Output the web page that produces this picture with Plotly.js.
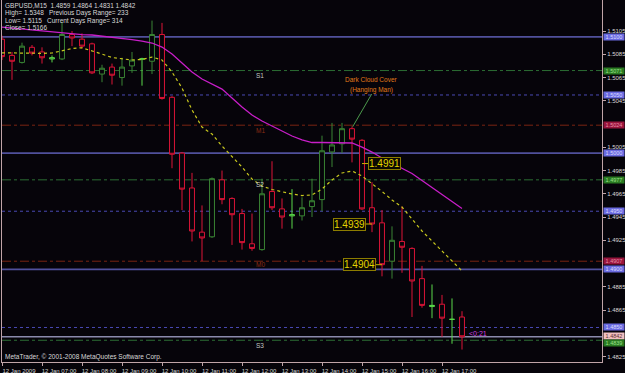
<!DOCTYPE html>
<html><head><meta charset="utf-8">
<script src="https://cdn.plot.ly/plotly-3.0.1.min.js"></script>
<style>html,body{margin:0;padding:0;background:#06040a;}#chart{width:625px;height:373px;}</style>
</head><body><div id="chart"></div>
<script>
// ---- data (GBPUSD M15, 12 Jan 2009, 06:00 .. 17:30) ----
const open  = [1.5098,1.5084,1.5078,1.5091,1.5087,1.5081,1.5081,1.5102,1.5098,1.5094,1.5068,1.5074,1.5065,1.5075,1.5081,1.5079,1.5102,1.5048,1.5000,1.4970,1.4932,1.4928,1.4977,1.4961,1.4948,1.4922,1.4917,1.4967,1.4952,1.4946,1.4946,1.4954,1.4960,1.5001,1.5008,1.5021,1.5011,1.4953,1.4940,1.4907,1.4924,1.4918,1.4892,1.4868,1.4870,1.4857,1.4859];
const high  = [1.5101,1.5087,1.5095,1.5093,1.5091,1.5084,1.5113,1.5105,1.5103,1.5095,1.5076,1.5077,1.5082,1.5087,1.5082,1.5114,1.5112,1.5049,1.5001,1.4983,1.4955,1.4979,1.4985,1.4962,1.4952,1.4948,1.4978,1.4993,1.4961,1.4969,1.4962,1.4978,1.5015,1.5026,1.5026,1.5023,1.5012,1.4975,1.4951,1.4937,1.4954,1.4919,1.4903,1.4887,1.4878,1.4875,1.4864];
const low   = [1.5080,1.5063,1.5077,1.5084,1.5077,1.5078,1.5080,1.5092,1.5090,1.5068,1.5061,1.5059,1.5058,1.5069,1.5058,1.5068,1.5046,1.4987,1.4951,1.4924,1.4907,1.4927,1.4956,1.4921,1.4917,1.4916,1.4916,1.4951,1.4935,1.4935,1.4942,1.4945,1.4950,1.4988,1.5000,1.4992,1.4951,1.4932,1.4894,1.4892,1.4897,1.4859,1.4867,1.4858,1.4842,1.4836,1.4831];
const close = [1.5083,1.5079,1.5092,1.5086,1.5082,1.5082,1.5102,1.5099,1.5092,1.5069,1.5073,1.5067,1.5074,1.5080,1.5081,1.5102,1.5047,1.4999,1.4969,1.4933,1.4927,1.4978,1.4960,1.4947,1.4923,1.4918,1.4965,1.4953,1.4945,1.4947,1.4953,1.4959,1.5002,1.5007,1.5021,1.5012,1.4952,1.4939,1.4904,1.4925,1.4919,1.4890,1.4869,1.4869,1.4858,1.4857,1.4842];
const maFast = [1.50863,1.50861,1.50858,1.50858,1.50858,1.50861,1.50882,1.50900,1.50906,1.50882,1.50852,1.50822,1.50809,1.50801,1.50805,1.50826,1.50801,1.50697,1.50560,1.50371,1.50224,1.50164,1.50061,1.49975,1.49880,1.49777,1.49717,1.49687,1.49665,1.49648,1.49635,1.49640,1.49691,1.49769,1.49829,1.49846,1.49803,1.49739,1.49670,1.49597,1.49536,1.49433,1.49330,1.49244,1.49158,1.49081,1.48986];
const maSlow = [1.51084,1.51076,1.51067,1.51059,1.51050,1.51041,1.51033,1.51024,1.51020,1.51016,1.51007,1.50998,1.50990,1.50977,1.50964,1.50947,1.50912,1.50852,1.50775,1.50697,1.50637,1.50594,1.50551,1.50474,1.50396,1.50328,1.50276,1.50233,1.50190,1.50147,1.50113,1.50091,1.50091,1.50091,1.50091,1.50087,1.50052,1.50009,1.49958,1.49915,1.49874,1.49825,1.49764,1.49704,1.49644,1.49584,1.49524];
const timeLabels = ["12 Jan 2009","12 Jan 07:00","12 Jan 08:00","12 Jan 09:00","12 Jan 10:00","12 Jan 11:00","12 Jan 12:00","12 Jan 13:00","12 Jan 14:00","12 Jan 15:00","12 Jan 16:00","12 Jan 17:00"];
const timeLabelBars = [0,4,8,12,16,20,24,28,32,36,40,44];
const priceTicks = [1.5105,1.5085,1.5065,1.5045,1.5005,1.4985,1.4965,1.4945,1.4925,1.4885,1.4865,1.4825];
const levelPrices = [1.5100,1.5071,1.5050,1.5024,1.5000,1.4977,1.4950,1.4907,1.4900,1.4850,1.4842,1.4839];
const levelKinds  = ['round','pivotS','half','pivotM','round','pivotS','half','pivotM','round','half','bid','pivotS'];
const pivotNames  = ['S1','M1','S2','M0','S3'];
const pivotPrices = [1.5071,1.5024,1.4977,1.4907,1.4839];
const sideBoxPrices = [1.5100,1.5071,1.5050,1.5024,1.5000,1.4977,1.4950,1.4907,1.4900,1.4850,1.4842,1.4839];
const sideBoxKinds  = ['round','pivotS','half','pivotM','round','pivotS','half','pivotM','round','half','bid','pivotS'];
const priceLabels = [1.4991,1.4939,1.4904];
const priceLabelBars = [36,37,38];
const header = "GBPUSD,M15  1.4859 1.4864 1.4831 1.4842";
const stats = [["High= 1.5348","Previous Days Range= 233"],["Low= 1.5115","Current Days Range= 314"],["Close= 1.5166",""]];

// ---- styling ----
const bg = '#06040a', axisCol = '#c0a4a8', txt = '#d8d8d8';
const FONT = 'Liberation Sans, Arial, sans-serif';
const PY0 = 1.48203, PY1 = 1.51317;
const bars = open.map((_, i) => i);
const doji = open.map((o, i) => Math.abs(close[i] - o) < 0.00015);
const sel = (a, keep) => a.map((v, i) => keep(i) ? v : null);
const normal = i => !doji[i], dj = i => doji[i];

const redC = '#dc1437', grnC = '#3a8434', dojiC = '#5ad84a';
const traces = [
  {type:'scatter', mode:'lines', x:bars, y:maSlow, line:{color:'#c81ec8', width:1.3}, hoverinfo:'skip'},
  {type:'scatter', mode:'lines', x:bars, y:maFast, line:{color:'#c8c81e', width:1.2, dash:'dot'}, hoverinfo:'skip'},
  {type:'candlestick', x:bars, open:sel(open,normal), high:sel(high,normal), low:sel(low,normal), close:sel(close,normal),
   increasing:{line:{color:grnC,width:1}, fillcolor:bg}, decreasing:{line:{color:redC,width:1}, fillcolor:bg}, whiskerwidth:0},
  {type:'candlestick', x:bars, open:sel(open,dj), high:sel(high,dj), low:sel(low,dj), close:sel(close,dj),
   increasing:{line:{color:dojiC,width:1}, fillcolor:bg}, decreasing:{line:{color:dojiC,width:1}, fillcolor:bg}, whiskerwidth:0}
];

const lineStyle = {
  round:{color:'#50509c', width:1.6, dash:'solid'},
  half:{color:'#4a4ab4', width:1, dash:'dot'},
  pivotS:{color:'#2c6e34', width:1, dash:'dashdot'},
  pivotM:{color:'#7a2412', width:1, dash:'dashdot'},
  bid:{color:'#8a8aac', width:1.4, dash:'solid'}
};
const shapes = levelPrices.map((p, k) => ({type:'line', xref:'paper', x0:0, x1:1, yref:'y', y0:p, y1:p, layer:'below', line:lineStyle[levelKinds[k]]}));

const boxStyle = {
  round:{bg:'#6a6ae0', fg:'#dcdcff'}, half:{bg:'#6a6ae0', fg:'#dcdcff'},
  pivotS:{bg:'#2a7a22', fg:'#9ae08a'}, pivotM:{bg:'#98143c', fg:'#e890a8'},
  bid:{bg:'#f0c0c0', fg:'#603030'}
};
const boxShift = {bid:1, pivotS:0};
const ann = [];
sideBoxPrices.forEach((p, k) => {
  const kind = sideBoxKinds[k], s = boxStyle[kind];
  let ys = 0;
  if (kind === 'bid') ys = 1;
  if (kind === 'pivotS' && k === sideBoxPrices.length - 1) ys = -2.5;
  ann.push({xref:'paper', x:1, xanchor:'left', xshift:1, yref:'y', y:p, yanchor:'middle', yshift:ys, text:p.toFixed(4), showarrow:false,
    bgcolor:s.bg, width:20, height:6, borderpad:0, font:{family:FONT, size:5.5, color:s.fg}});
});
pivotNames.forEach((n, k) => {
  ann.push({xref:'x', x:25.8, yref:'y', y:pivotPrices[k], yshift:n==='M0'?-3:-5, text:n, showarrow:false,
    font:{family:FONT, size:6.5, color:n[0]==='M' ? '#8c2c14' : '#c4c4c4'}});
});
priceLabels.forEach((p, k) => {
  const b = priceLabelBars[k], right = k === 0;
  ann.push({xref:'x', x: right ? b + 0.6 : b - 0.6, xanchor: right ? 'left' : 'right', yref:'y', y:p, yanchor:'middle',
    text:p.toFixed(4), showarrow:false, bgcolor:'#0c0a02', bordercolor:'#8c7c00', borderwidth:1, borderpad:0,
    font:{family:FONT, size:10, color:'#e4d400'}});
  shapes.push({type:'line', xref:'x', x0:b, x1: right ? b + 0.6 : b - 0.6, yref:'y', y0:p, y1:p, line:{color:'#c8b400', width:1}});
});
// pattern note
ann.push({xref:'x', x:36.9, yref:'y', y:1.50637, text:'Dark Cloud Cover', showarrow:false, font:{family:FONT, size:6.5, color:'#e07a1a'}});
ann.push({xref:'x', x:36.9, yref:'y', y:1.50540, text:'(Hanging Man)', showarrow:false, font:{family:FONT, size:6.5, color:'#e07a1a'}});
shapes.push({type:'line', xref:'x', yref:'y', x0:36.97, y0:1.50508, x1:35.07, y1:1.50227, line:{color:'#4c9a4c', width:1}});
// header text
const px = v => (v - 2) / 600, py = v => 1 - v / 362;
ann.push({xref:'paper', yref:'paper', x:px(3), y:py(6), xanchor:'left', yanchor:'middle', text:header, showarrow:false, font:{family:FONT, size:6.5, color:txt}});
const statY = [13.3, 20.7, 27.7];
stats.forEach((r, k) => {
  ann.push({xref:'paper', yref:'paper', x:px(3), y:py(statY[k]), xanchor:'left', yanchor:'middle', text:r[0], showarrow:false, font:{family:FONT, size:6.5, color:txt}});
  if (r[1]) ann.push({xref:'paper', yref:'paper', x:px(k === 0 ? 47 : 45), y:py(statY[k]), xanchor:'left', yanchor:'middle', text:r[1], showarrow:false, font:{family:FONT, size:6.5, color:txt}});
});
ann.push({xref:'paper', yref:'paper', x:px(3), y:py(357), xanchor:'left', yanchor:'middle', text:'MetaTrader, © 2001-2008 MetaQuotes Software Corp.', showarrow:false, font:{family:FONT, size:6.5, color:txt}});
ann.push({xref:'x', x:46.5, xanchor:'left', yref:'y', y:1.4842, yshift:3, text:'&lt;0:21', showarrow:false, font:{family:FONT, size:7, color:'#d040e0'}});

const layout = {
  width:625, height:373, margin:{l:2, r:23, t:0, b:11}, paper_bgcolor:bg, plot_bgcolor:bg,
  showlegend:false, boxgap:0.3, font:{family:FONT, size:6, color:txt},
  xaxis:{range:[0,60], tickmode:'array', tickvals:timeLabelBars, ticktext:timeLabels, showgrid:false, zeroline:false,
    showline:true, linecolor:axisCol, linewidth:1, ticks:'outside', ticklen:3, tickcolor:axisCol, tickfont:{size:6, color:txt},
    ticklabelshift:17, rangeslider:{visible:false}, fixedrange:true},
  yaxis:{side:'right', range:[PY0, PY1], tickmode:'array', tickvals:priceTicks, ticktext:priceTicks.map(v=>v.toFixed(4)),
    showgrid:false, zeroline:false, showline:true, mirror:true, linecolor:axisCol, linewidth:1, ticks:'outside', ticklen:3,
    tickcolor:axisCol, tickfont:{size:6, color:txt}, fixedrange:true},
  shapes:shapes, annotations:ann
};
Plotly.newPlot('chart', traces, layout, {displayModeBar:false, staticPlot:true});
</script></body></html>
